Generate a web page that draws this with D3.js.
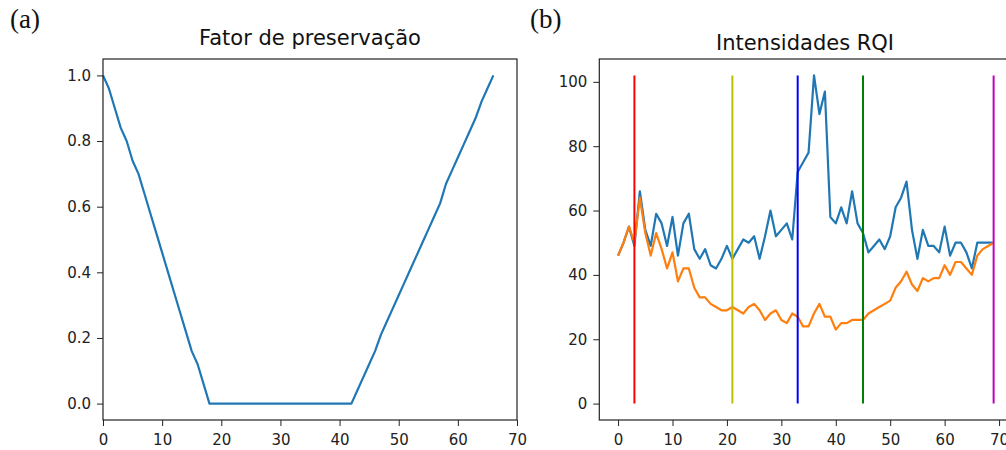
<!DOCTYPE html>
<html>
<head>
<meta charset="utf-8">
<script src="https://cdn.jsdelivr.net/npm/d3@7"></script>
<style>
  body { margin: 0; background: #fff; }
  svg { display: block; }
  .tick text { font-family: "DejaVu Sans", sans-serif; font-size: 15px; fill: #222; }
  .tick line { stroke: #222; }
  .title { font-family: "DejaVu Sans", sans-serif; font-size: 21px; fill: #111; }
  .panel { font-family: "Liberation Serif", "DejaVu Serif", serif; font-size: 27px; fill: #111; }
</style>
</head>
<body>
<div id="chart"></div>
<script>
// (a) preservation factor, one value per position 0..66
var preservation = [1.0, 0.96, 0.90, 0.84, 0.80, 0.74, 0.70, 0.64, 0.58, 0.52,
  0.46, 0.40, 0.34, 0.28, 0.22, 0.16, 0.12, 0.06, 0.0, 0.0,
  0.0, 0.0, 0.0, 0.0, 0.0, 0.0, 0.0, 0.0, 0.0, 0.0,
  0.0, 0.0, 0.0, 0.0, 0.0, 0.0, 0.0, 0.0, 0.0, 0.0,
  0.0, 0.0, 0.0, 0.04, 0.08, 0.12, 0.16, 0.21, 0.25, 0.29,
  0.33, 0.37, 0.41, 0.45, 0.49, 0.53, 0.57, 0.61, 0.67, 0.71,
  0.75, 0.79, 0.83, 0.87, 0.92, 0.96, 1.0];

// (b) RQI intensities, positions 0..69
var rqiBlue = [46, 50, 55, 49, 66, 54, 49, 59, 56, 49,
  58, 46, 56, 59, 48, 45, 48, 43, 42, 45,
  49, 45, 48, 51, 50, 52, 45, 52, 60, 52,
  54, 56, 51, 72, 75, 78, 102, 90, 97, 58,
  56, 61, 56, 66, 56, 53, 47, 49, 51, 48,
  52, 61, 64, 69, 54, 45, 54, 49, 49, 47,
  55, 46, 50, 50, 47, 42, 50, 50, 50, 50];

var rqiOrange = [46, 50, 55, 50, 64, 53, 46, 53, 48, 42,
  47, 38, 42, 42, 36, 33, 33, 31, 30, 29,
  29, 30, 29, 28, 30, 31, 29, 26, 28, 29,
  26, 25, 28, 27, 24, 24, 28, 31, 27, 27,
  23, 25, 25, 26, 26, 26, 28, 29, 30, 31,
  32, 36, 38, 41, 37, 35, 39, 38, 39, 39,
  43, 40, 44, 44, 42, 40, 46, 48, 49, 50];

// vertical markers
var markerPos = [3, 21, 33, 45, 69];
var markerColors = ["#ff0000", "#bfbf00", "#0000ff", "#008000", "#bf00bf"];
var markerTop = 102;

var xTicks = [0, 10, 20, 30, 40, 50, 60, 70];
var yTicksA = [0, 0.2, 0.4, 0.6, 0.8, 1.0];
var yTicksB = [0, 20, 40, 60, 80, 100];

var svgWidth = 1006, svgHeight = 450;
var plotTop = 59, plotBottom = 420;

var svg = d3.select("#chart").append("svg")
  .attr("width", svgWidth)
  .attr("height", svgHeight);

// ---------- panel (a) ----------
var xA = d3.scaleLinear().domain([0, 70]).range([103, 517]);
var yA = d3.scaleLinear().domain([-0.05, 1.05]).range([plotBottom, plotTop]);

svg.append("g")
  .attr("transform", `translate(0, ${plotBottom})`)
  .call(d3.axisBottom(xA).tickValues(xTicks).tickSize(6).tickPadding(8))
  .call(g => g.select(".domain").remove());

svg.append("g")
  .attr("transform", `translate(${xA.range()[0]}, 0)`)
  .call(d3.axisLeft(yA).tickValues(yTicksA).tickFormat(d3.format(".1f")).tickSize(6).tickPadding(6))
  .call(g => g.select(".domain").remove());

svg.append("path")
  .datum(preservation)
  .attr("fill", "none")
  .attr("stroke", "#1f77b4")
  .attr("stroke-width", 2.2)
  .attr("stroke-linejoin", "round")
  .attr("d", d3.line().x((d, i) => xA(i)).y(d => yA(d)));

svg.append("rect")
  .attr("x", 103).attr("y", plotTop)
  .attr("width", 517 - 103).attr("height", plotBottom - plotTop)
  .attr("fill", "none").attr("stroke", "#222").attr("stroke-width", 1.2);

svg.append("text").attr("class", "title")
  .attr("x", 310).attr("y", 45)
  .attr("text-anchor", "middle")
  .text("Fator de preservação");

svg.append("text").attr("class", "panel")
  .attr("x", 10).attr("y", 28)
  .text("(a)");

// ---------- panel (b) ----------
var xB = d3.scaleLinear().domain([-3.45, 72.45]).range([599.3, 1012.4]);
var yB = d3.scaleLinear().domain([-5.1, 107.1]).range([plotBottom, plotTop]);

svg.append("g")
  .attr("transform", `translate(0, ${plotBottom})`)
  .call(d3.axisBottom(xB).tickValues(xTicks).tickSize(6).tickPadding(8))
  .call(g => g.select(".domain").remove());

svg.append("g")
  .attr("transform", `translate(${xB.range()[0]}, 0)`)
  .call(d3.axisLeft(yB).tickValues(yTicksB).tickSize(6).tickPadding(6))
  .call(g => g.select(".domain").remove());

var lineB = d3.line().x((d, i) => xB(i)).y(d => yB(d));

[[rqiBlue, "#1f77b4"], [rqiOrange, "#ff7f0e"]].forEach(function(s) {
  svg.append("path")
    .datum(s[0])
    .attr("fill", "none")
    .attr("stroke", s[1])
    .attr("stroke-width", 2.2)
    .attr("stroke-linejoin", "round")
    .attr("d", lineB);
});

svg.selectAll(".marker")
  .data(markerPos)
  .enter()
  .append("line")
  .attr("class", "marker")
  .attr("x1", d => xB(d)).attr("x2", d => xB(d))
  .attr("y1", yB(0)).attr("y2", yB(markerTop))
  .attr("stroke", (d, i) => markerColors[i])
  .attr("stroke-width", 2);

svg.append("rect")
  .attr("x", 599.3).attr("y", plotTop)
  .attr("width", 1012.4 - 599.3).attr("height", plotBottom - plotTop)
  .attr("fill", "none").attr("stroke", "#222").attr("stroke-width", 1.2);

svg.append("text").attr("class", "title")
  .attr("x", 805).attr("y", 50)
  .attr("text-anchor", "middle")
  .text("Intensidades RQI");

svg.append("text").attr("class", "panel")
  .attr("x", 530).attr("y", 28)
  .text("(b)");
</script>
</body>
</html>
